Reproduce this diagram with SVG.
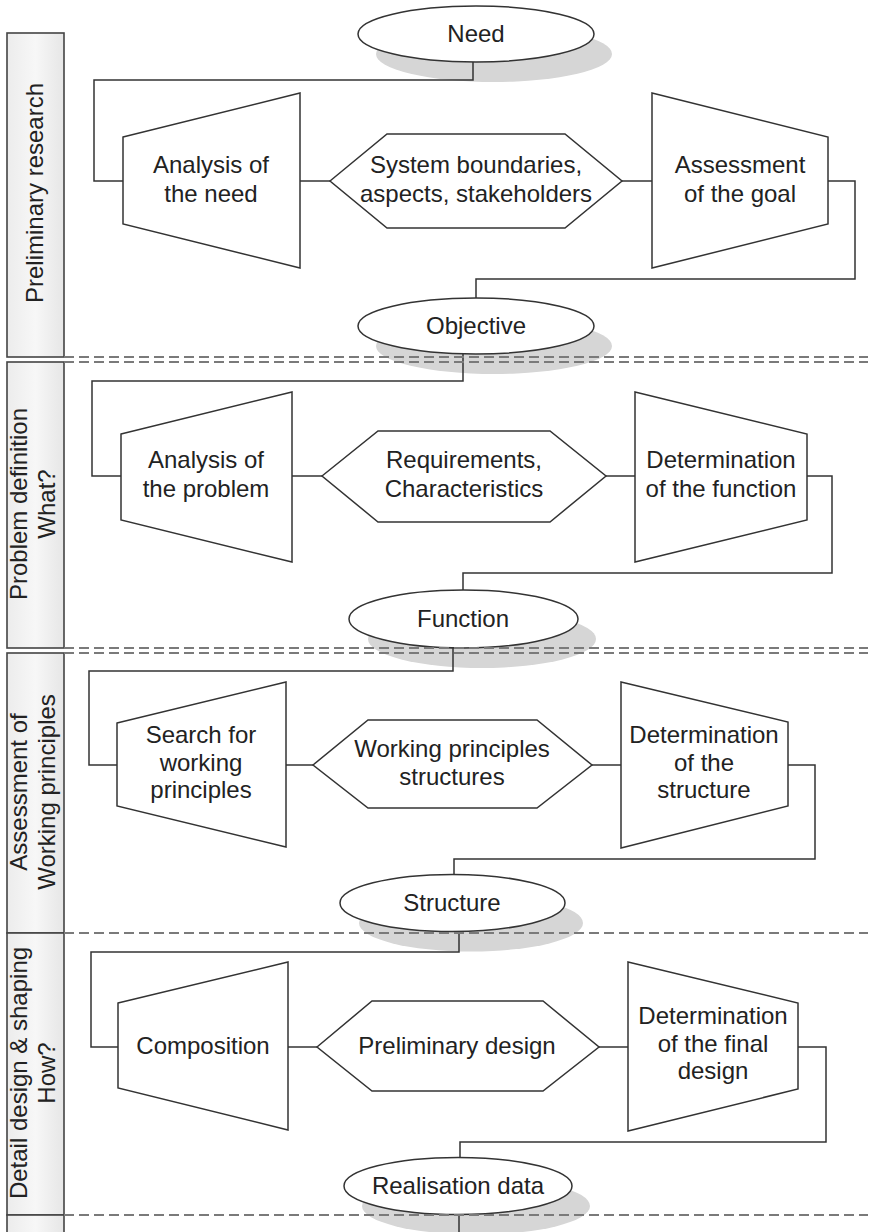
<svg xmlns="http://www.w3.org/2000/svg" width="882" height="1232" viewBox="0 0 882 1232">
<defs>
<linearGradient id="laneFill" x1="0" y1="0" x2="1" y2="0">
<stop offset="0" stop-color="#ececec"/>
<stop offset="0.5" stop-color="#f7f7f7"/>
<stop offset="1" stop-color="#e6e6e6"/>
</linearGradient>
<style>
.lane{fill:url(#laneFill);stroke:#444;stroke-width:1.6}
.shape{fill:#fff;stroke:#333;stroke-width:1.5}
.shadow{fill:#d6d6d6;stroke:none}
.conn{fill:none;stroke:#333;stroke-width:1.5}
.sep{stroke:#7a7a7a;stroke-width:2;stroke-dasharray:10 5;fill:none}
text{font-family:"Liberation Sans",Arial,sans-serif;font-size:24px;fill:#222;text-anchor:middle}
</style>
</defs>
<rect width="882" height="1232" fill="#fff"/>

<g id="lanes">
<g id="lane-preliminary"><rect class="lane" x="7" y="33" width="57" height="324"/>
<text transform="translate(43,193) rotate(-90)">Preliminary research</text></g>
<g id="lane-problem"><rect class="lane" x="7" y="362" width="57" height="286"/>
<text transform="translate(27,504) rotate(-90)">Problem definition</text>
<text transform="translate(55,504) rotate(-90)">What?</text></g>
<g id="lane-working"><rect class="lane" x="7" y="653" width="57" height="280"/>
<text transform="translate(27,792) rotate(-90)">Assessment of</text>
<text transform="translate(55,792) rotate(-90)">Working principles</text></g>
<g id="lane-detail"><rect class="lane" x="7" y="933" width="57" height="282"/>
<text transform="translate(27,1073) rotate(-90)">Detail design &amp; shaping</text>
<text transform="translate(55,1073) rotate(-90)">How?</text></g>
<g id="lane-next"><rect class="lane" x="7" y="1215" width="57" height="30"/></g>
</g>

<g id="shadows">
<ellipse class="shadow" cx="494" cy="54" rx="118" ry="28"/>
<ellipse class="shadow" cx="494" cy="346" rx="118" ry="28"/>
<ellipse class="shadow" cx="482" cy="639" rx="114" ry="29"/>
<ellipse class="shadow" cx="471" cy="923" rx="112" ry="28.5"/>
<ellipse class="shadow" cx="476" cy="1206" rx="114" ry="28.5"/>
</g>

<g id="connectors">
<path class="conn" d="M473,62 V80 H94 V181 H123"/>
<path class="conn" d="M300,181 H330"/>
<path class="conn" d="M622,181 H652"/>
<path class="conn" d="M828,181 H855 V279 H476 V298"/>
<path class="conn" d="M463,353 V381 H92 V476 H121"/>
<path class="conn" d="M292,476 H322"/>
<path class="conn" d="M606,476 H635"/>
<path class="conn" d="M807,476 H832 V573 H463 V590"/>
<path class="conn" d="M453,648 V671 H89 V765 H117"/>
<path class="conn" d="M286,765 H313"/>
<path class="conn" d="M592,765 H621"/>
<path class="conn" d="M788,765 H815 V859 H454 V875"/>
<path class="conn" d="M459,932 V952 H91 V1047 H118"/>
<path class="conn" d="M288,1047 H317"/>
<path class="conn" d="M599,1047 H628"/>
<path class="conn" d="M798,1047 H826 V1142 H460 V1158"/>
<path class="conn" d="M459,1215 V1232"/>
</g>

<g id="need"><ellipse class="shape" cx="476" cy="34" rx="118" ry="28"/><text x="476" y="42">Need</text></g>
<g id="analysis-need"><polygon class="shape" points="123,137 300,93 300,268 123,224"/><text x="211" y="173">Analysis of</text><text x="211" y="202">the need</text></g>
<g id="system-boundaries"><polygon class="shape" points="330,181 387,134 565,134 622,181 565,228 387,228"/><text x="476" y="173">System boundaries,</text><text x="476" y="202">aspects, stakeholders</text></g>
<g id="assessment-goal"><polygon class="shape" points="652,93 828,137 828,224 652,268"/><text x="740" y="173">Assessment</text><text x="740" y="202">of the goal</text></g>
<g id="objective"><ellipse class="shape" cx="476" cy="326" rx="118" ry="28"/><text x="476" y="334">Objective</text></g>

<g id="analysis-problem"><polygon class="shape" points="121,434 292,392 292,562 121,520"/><text x="206" y="468">Analysis of</text><text x="206" y="497">the problem</text></g>
<g id="requirements"><polygon class="shape" points="322,476 378,431 550,431 606,476 550,522 378,522"/><text x="464" y="468">Requirements,</text><text x="464" y="497">Characteristics</text></g>
<g id="determination-function"><polygon class="shape" points="635,392 807,434 807,520 635,562"/><text x="721" y="468">Determination</text><text x="721" y="497">of the function</text></g>
<g id="function"><ellipse class="shape" cx="463.5" cy="619" rx="114.5" ry="29"/><text x="463" y="627">Function</text></g>

<g id="search-principles"><polygon class="shape" points="117,723 286,682 286,847 117,806"/><text x="201" y="743">Search for</text><text x="201" y="771">working</text><text x="201" y="798">principles</text></g>
<g id="working-principles"><polygon class="shape" points="313,765 368,720 537,720 592,765 537,808 368,808"/><text x="452" y="757">Working principles</text><text x="452" y="785">structures</text></g>
<g id="determination-structure"><polygon class="shape" points="621,682 788,722 788,806 621,848"/><text x="704" y="743">Determination</text><text x="704" y="771">of the</text><text x="704" y="798">structure</text></g>
<g id="structure"><ellipse class="shape" cx="452.5" cy="903" rx="112.5" ry="28.5"/><text x="452" y="911">Structure</text></g>

<g id="composition"><polygon class="shape" points="118,1003 288,962 288,1130 118,1088"/><text x="203" y="1054">Composition</text></g>
<g id="preliminary-design"><polygon class="shape" points="317,1047 372,1001 543,1001 599,1047 543,1091 372,1091"/><text x="457" y="1054">Preliminary design</text></g>
<g id="determination-final"><polygon class="shape" points="628,962 798,1003 798,1089 628,1131"/><text x="713" y="1024">Determination</text><text x="713" y="1052">of the final</text><text x="713" y="1079">design</text></g>
<g id="realisation"><ellipse class="shape" cx="458" cy="1186" rx="114" ry="28.5"/><text x="458" y="1194">Realisation data</text></g>

<g id="separators">
<path class="sep" d="M64,357 H868 M64,362 H868"/>
<path class="sep" d="M64,648 H868 M64,653 H868"/>
<path class="sep" d="M64,933 H868"/>
<path class="sep" d="M64,1215 H868"/>
</g>
</svg>
